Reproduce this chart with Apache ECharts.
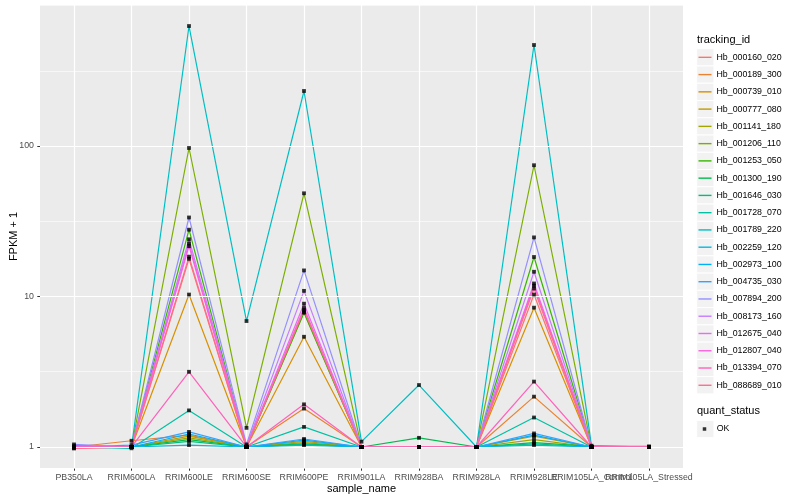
<!DOCTYPE html>
<html><head><meta charset="utf-8">
<script src="https://cdn.jsdelivr.net/npm/echarts@6/dist/echarts.min.js"></script>
<style>html,body{margin:0;padding:0;background:#fff}#c{width:800px;height:500px}</style>
</head><body><div id="c"></div>
<script>
// ---- data ----
const categories = ['PB350LA','RRIM600LA','RRIM600LE','RRIM600SE','RRIM600PE','RRIM901LA','RRIM928BA','RRIM928LA','RRIM928LE','RRIM105LA_Control','RRIM105LA_Stressed'];
const trackingIds = ['Hb_000160_020','Hb_000189_300','Hb_000739_010','Hb_000777_080','Hb_001141_180','Hb_001206_110','Hb_001253_050','Hb_001300_190','Hb_001646_030','Hb_001728_070','Hb_001789_220','Hb_002259_120','Hb_002973_100','Hb_004735_030','Hb_007894_200','Hb_008173_160','Hb_012675_040','Hb_012807_040','Hb_013394_070','Hb_088689_010'];
const seriesColors = ['#F8766D','#EA8331','#D89000','#C09B00','#A3A500','#7CAE00','#39B600','#00BB4E','#00BF7D','#00C1A3','#00BFC4','#00BAE0','#00B0F6','#35A2FF','#9590FF','#C77CFF','#E76BF3','#FA62DB','#FF62BC','#FF6C91'];
const quantStatus = ['OK'];

const Hb_000160_020 = [0.98, 1.00, 17.8, 1.00, 7.9, 1.00, 1.00, 1.00, 10.3, 1.00, 1.00];
const Hb_000189_300 = [1.00, 1.10, 1.20, 1.00, 1.80, 1.00, 1.00, 1.00, 2.16, 1.00, 1.00];
const Hb_000739_010 = [1.00, 1.00, 10.3, 1.00, 5.4, 1.00, 1.00, 1.00, 8.43, 1.00, 1.00];
const Hb_000777_080 = [1.00, 1.00, 1.18, 1.00, 1.09, 1.00, 1.00, 1.00, 1.18, 1.00, 1.00];
const Hb_001141_180 = [1.00, 1.00, 1.15, 1.00, 1.07, 1.00, 1.00, 1.00, 1.12, 1.00, 1.00];
const Hb_001206_110 = [1.00, 1.00, 97.0, 1.34, 48.5, 1.00, 1.00, 1.00, 74.5, 1.00, 1.00];
const Hb_001253_050 = [1.00, 1.00, 27.8, 1.00, 7.8, 1.00, 1.00, 1.00, 18.3, 1.00, 1.00];
const Hb_001300_190 = [1.00, 1.00, 1.12, 1.00, 1.05, 1.00, 1.15, 1.00, 1.07, 1.01, 1.01];
const Hb_001646_030 = [1.00, 1.00, 1.09, 1.00, 1.04, 1.00, 1.00, 1.00, 1.05, 1.00, 1.00];
const Hb_001728_070 = [1.00, 0.98, 1.75, 1.00, 1.36, 1.00, 1.00, 1.00, 1.57, 1.00, 1.00];
const Hb_001789_220 = [1.00, 1.00, 627, 6.87, 232, 1.085, 2.58, 1.00, 469, 1.02, 1.00];
const Hb_002259_120 = [1.00, 1.00, 1.03, 1.00, 1.03, 1.00, 1.00, 1.00, 1.03, 1.00, 1.00];
const Hb_002973_100 = [1.02, 1.00, 1.22, 1.00, 1.11, 1.00, 1.00, 1.00, 1.20, 1.00, 1.00];
const Hb_004735_030 = [1.00, 1.03, 1.26, 1.00, 1.13, 1.00, 1.00, 1.00, 1.23, 1.00, 1.00];
const Hb_007894_200 = [1.04, 1.00, 33.5, 1.04, 14.9, 1.00, 1.00, 1.00, 24.7, 1.00, 1.00];
const Hb_008173_160 = [1.00, 1.00, 24.0, 1.02, 10.9, 1.00, 1.00, 1.00, 14.6, 1.00, 1.00];
const Hb_012675_040 = [1.00, 1.00, 22.5, 1.00, 8.96, 1.00, 1.00, 1.00, 12.2, 1.00, 1.00];
const Hb_012807_040 = [1.00, 1.00, 21.6, 1.00, 8.39, 1.00, 1.00, 1.00, 11.8, 1.00, 1.00];
const Hb_013394_070 = [1.00, 1.00, 3.16, 1.00, 1.92, 1.00, 1.00, 1.00, 2.72, 1.00, 1.00];
const Hb_088689_010 = [0.98, 1.00, 18.4, 1.00, 8.13, 1.00, 1.00, 1.00, 11.3, 1.00, 1.00];

const seriesValues = [Hb_000160_020, Hb_000189_300, Hb_000739_010, Hb_000777_080, Hb_001141_180, Hb_001206_110, Hb_001253_050, Hb_001300_190, Hb_001646_030, Hb_001728_070, Hb_001789_220, Hb_002259_120, Hb_002973_100, Hb_004735_030, Hb_007894_200, Hb_008173_160, Hb_012675_040, Hb_012807_040, Hb_013394_070, Hb_088689_010];

const yTickLabels = [1, 10, 100];

// ---- layout / style ----
const FONT = 'Liberation Sans, Arial, Helvetica, sans-serif';
const Y_MIN = 0.725, Y_MAX = 865;
const PANEL = {left: 40, top: 5, width: 643, height: 463};
const PLOT = {left: 74, top: 5, width: 575, height: 463};
const KEY = {left: 696.7, top: 48.7, size: 17.26};

const chart = echarts.init(document.getElementById('c'), null, {renderer: 'canvas'});

const lineSeries = trackingIds.map((id, i) => ({
  type: 'line', name: id, xAxisIndex: 1, yAxisIndex: 2,
  data: seriesValues[i], symbol: 'none', showSymbol: false,
  lineStyle: {color: seriesColors[i], width: 1.2},
  itemStyle: {color: seriesColors[i]},
  emphasis: {disabled: true}, animation: false, z: 2
}));

const pointData = [];
seriesValues.forEach(arr => arr.forEach((v, j) => pointData.push([j, v])));

const graphics = [
  {type: 'text', left: 697, top: 34, style: {text: 'tracking_id', fontSize: 11, fontFamily: FONT, fill: '#000'}},
  {type: 'text', left: 697, top: 405.6, style: {text: 'quant_status', fontSize: 11, fontFamily: FONT, fill: '#000'}}
];
trackingIds.forEach((id, i) => graphics.push({
  type: 'rect', shape: {x: KEY.left, y: KEY.top + i * KEY.size, width: 17.28, height: KEY.size},
  style: {fill: '#F2F2F2', stroke: '#fff', lineWidth: 1}, z: -1
}));
graphics.push({type: 'rect', shape: {x: KEY.left, y: 429 - KEY.size / 2, width: 17.28, height: KEY.size},
  style: {fill: '#F2F2F2', stroke: '#fff', lineWidth: 1}, z: -1});

const option = {
  animation: false,
  textStyle: {fontFamily: FONT},
  grid: [
    Object.assign({show: true, backgroundColor: '#EBEBEB', borderWidth: 0, containLabel: false, outerBoundsMode: 'none'}, PANEL),
    Object.assign({show: false, containLabel: false, outerBoundsMode: 'none'}, PLOT)
  ],
  xAxis: [
    {type: 'value', gridIndex: 0, min: 0, max: 1, show: false},
    {type: 'category', gridIndex: 1, data: categories, boundaryGap: false,
     axisLine: {show: false},
     axisTick: {show: true, length: 2.7, interval: 0, lineStyle: {color: '#333333', width: 1}},
     axisLabel: {interval: 0, fontSize: 8.8, color: '#4D4D4D', margin: 5.5, fontFamily: FONT},
     splitLine: {show: true, interval: 0, lineStyle: {color: '#FFFFFF', width: 1.2}},
     name: 'sample_name', nameLocation: 'middle', nameGap: 15, nameMoveOverlap: false,
     nameTextStyle: {fontSize: 11, color: '#000', fontFamily: FONT}}
  ],
  yAxis: [
    {type: 'log', logBase: 10, gridIndex: 0, min: Y_MIN, max: Y_MAX,
     axisLine: {show: false},
     axisTick: {show: true, length: 2.7, customValues: yTickLabels, lineStyle: {color: '#333333', width: 1}},
     axisLabel: {show: true, customValues: yTickLabels, fontSize: 8.8, color: '#4D4D4D', margin: 6, fontFamily: FONT,
                 formatter: v => String(v)},
     splitLine: {show: true, lineStyle: {color: '#FFFFFF', width: 1.2}},
     name: 'FPKM + 1', nameLocation: 'middle', nameGap: 21, nameMoveOverlap: false,
     nameTextStyle: {fontSize: 11, color: '#000', fontFamily: FONT}, z: 3},
    // minor grid: half-decade lines
    {type: 'log', logBase: Math.sqrt(10), gridIndex: 0, min: Y_MIN, max: Y_MAX, position: 'left',
     axisLine: {show: false}, axisTick: {show: false}, axisLabel: {show: false},
     splitLine: {show: true, lineStyle: {color: '#FFFFFF', width: 0.6}}, z: 2},
    {type: 'log', logBase: 10, gridIndex: 1, min: Y_MIN, max: Y_MAX,
     axisLine: {show: false}, axisTick: {show: false}, axisLabel: {show: false}, splitLine: {show: false}}
  ],
  legend: [
    {orient: 'vertical', left: 698.5, top: KEY.top, padding: 0, itemGap: 0,
     itemWidth: 13, itemHeight: 1.4, icon: 'rect', selectedMode: false,
     data: trackingIds.map((id, i) => ({name: id, icon: 'rect', itemStyle: {color: seriesColors[i]}})),
     textStyle: {fontSize: 8.8, color: '#000', lineHeight: KEY.size, fontFamily: FONT}},
    {orient: 'vertical', left: 702.75, top: 429 - KEY.size / 2, padding: 0, itemGap: 0,
     itemWidth: 3.5, itemHeight: 3.5, icon: 'rect', selectedMode: false,
     data: quantStatus.map(s => ({name: s, icon: 'rect', itemStyle: {color: '#000'}})),
     textStyle: {fontSize: 8.8, color: '#000', lineHeight: KEY.size, padding: [0, 0, 0, 5.5], fontFamily: FONT}}
  ],
  graphic: graphics,
  series: lineSeries.concat([{
    type: 'scatter', name: quantStatus[0], xAxisIndex: 1, yAxisIndex: 2,
    data: pointData, symbol: 'rect', symbolSize: 3.8,
    itemStyle: {color: '#000'}, emphasis: {disabled: true}, animation: false, z: 3
  }])
};
chart.setOption(option);
</script></body></html>
